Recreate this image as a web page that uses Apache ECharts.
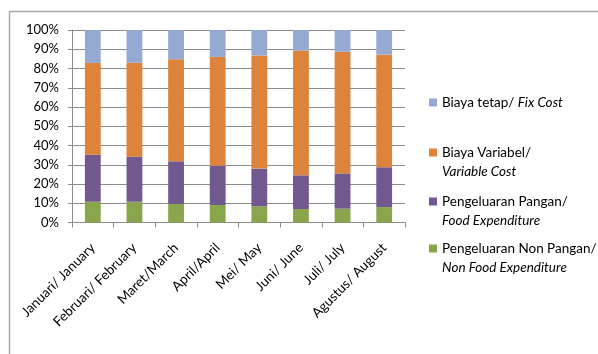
<!DOCTYPE html>
<html><head><meta charset="utf-8">
<script src="https://cdn.jsdelivr.net/npm/echarts@6/dist/echarts.min.js"></script>
<style>html,body{margin:0;padding:0;background:#fff}#c{width:598px;height:354px}</style>
</head><body><div id="c"></div>
<script>
var categories = ['Januari/ January','Februari/ February','Maret/March','April/April','Mei/ May','Juni/ June','Juli/ July','Agustus/ August'];
var nonFood = [10.8,10.8,9.6,9.1,8.4,7.0,7.2,8.0];
var food = [24.4,23.4,22.2,20.4,19.6,17.5,18.3,20.7];
var variableCost = [47.7,48.8,53.0,56.5,58.8,64.8,63.2,58.5];
var fixCost = [17.1,17.0,15.2,14.0,13.2,10.7,11.3,12.8];
var yTicks = ['0%','10%','20%','30%','40%','50%','60%','70%','80%','90%','100%'];

var names = {
  fix: 'Biaya tetap/ Fix Cost',
  vari: 'Biaya Variabel/ Variable Cost',
  food: 'Pengeluaran Pangan/ Food Expenditure',
  nonfood: 'Pengeluaran Non Pangan/ Non Food Expenditure'
};
var legendText = {};
legendText[names.fix] = 'Biaya tetap/ {i|Fix Cost}';
legendText[names.vari] = 'Biaya Variabel/\n{i|Variable Cost}';
legendText[names.food] = 'Pengeluaran Pangan/\n{i|Food Expenditure}';
legendText[names.nonfood] = 'Pengeluaran Non Pangan/\n{i|Non Food Expenditure}';

var FONT = 'Lato';
var chart = echarts.init(document.getElementById('c'));
function mkLegend(name, top, twoLine) {
  return {
    left: 424, top: top, orient: 'vertical',
    data: [name], icon: 'rect', itemWidth: 8, itemHeight: 8, itemGap: 0,
    selectedMode: false,
    formatter: function(n){ return legendText[n]; },
    textStyle: {
      fontFamily: FONT, fontSize: 13.5, color: '#000', lineHeight: 19,
      padding: twoLine ? [19, 0, 0, 0] : 0,
      rich: { i: { fontStyle: 'italic', fontFamily: FONT, fontSize: 13.5, color: '#000', lineHeight: 19 } }
    }
  };
}
function mkSeries(name, data, color) {
  return { name: name, type: 'bar', stack: 'a', data: data, barWidth: '38%',
    itemStyle: { color: color }, emphasis: { disabled: true } };
}
chart.setOption({
  animation: false,
  textStyle: { fontFamily: FONT },
  grid: { left: 72, right: 193, top: 30, bottom: 131.5, containLabel: false },
  legend: [
    mkLegend(names.fix, 88, false),
    mkLegend(names.vari, 119, true),
    mkLegend(names.food, 168, true),
    mkLegend(names.nonfood, 215, true)
  ],
  xAxis: {
    type: 'category', data: categories,
    axisLine: { lineStyle: { color: '#8c8c8c', width: 1 } },
    axisTick: { show: true, length: 5, lineStyle: { color: '#8c8c8c' }, alignWithLabel: false },
    axisLabel: { rotate: 45, interval: 0, margin: 23, fontFamily: FONT, fontSize: 13.5, color: '#000' }
  },
  yAxis: {
    type: 'value', min: 0, max: 100, interval: 10,
    axisLine: { show: true, lineStyle: { color: '#8c8c8c' } },
    axisTick: { show: true, length: 4, lineStyle: { color: '#8c8c8c' } },
    splitLine: { lineStyle: { color: '#8c8c8c', width: 1 } },
    axisLabel: { margin: 13, fontFamily: FONT, fontSize: 13, color: '#000',
      formatter: function(v){ return yTicks[Math.round(v/10)]; } }
  },
  series: [
    mkSeries(names.nonfood, nonFood, '#8aa64c'),
    mkSeries(names.food, food, '#71588f'),
    mkSeries(names.vari, variableCost, '#dd833c'),
    mkSeries(names.fix, fixCost, '#94aad3')
  ],
  graphic: [
    { type: 'line', shape: { x1: 9.5, y1: 11.5, x2: 600, y2: 11.5 }, style: { stroke: '#a6a6a6', lineWidth: 1.5 } },
    { type: 'line', shape: { x1: 9.5, y1: 11.5, x2: 9.5, y2: 360 }, style: { stroke: '#a6a6a6', lineWidth: 1.5 } }
  ]
});
</script></body></html>
